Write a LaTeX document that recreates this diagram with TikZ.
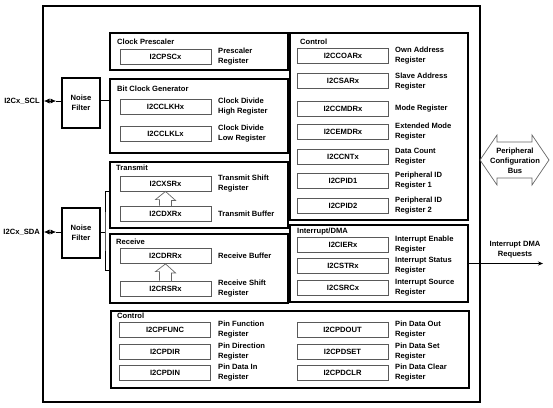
\documentclass[tikz,border=0pt]{standalone}
\usepackage{fontspec}
\setmainfont{Liberation Sans}
\usetikzlibrary{arrows.meta}

\begin{document}
\begin{tikzpicture}[x=1pt,y=-1pt,font=\bfseries\fontsize{7.6}{10}\selectfont]
\tikzstyle{lien}=[line width=0.6pt]
\tikzstyle{creux}=[draw=black!60,line width=0.7pt]
\tikzset{bloc/.style={draw,line width=1.6pt,minimum width=178pt,inner sep=0pt},
registre/.style={draw=black!65,line width=0.8pt,minimum width=91pt,minimum height=15pt,inner sep=0pt},
legende/.style={anchor=west,align=left,inner sep=0pt},
titre/.style={anchor=west,inner sep=0pt}}
\useasboundingbox (0,0) rectangle (553,407);

% module
\draw[line width=1.5pt] (43,6) rectangle (480,402);

% blocs
\node[bloc,minimum height=37pt] (presc) at (199,51.5) {};
\node[bloc,minimum height=74pt] (clkgen) at (199,116) {};
\node[bloc,minimum height=66pt] (tx) at (199,195) {};
\node[bloc,minimum height=69pt] (rx) at (199,268.5) {};
\node[bloc,minimum height=187pt] (ctrl) at (379,126.5) {};
\node[bloc,minimum height=77pt] (irq) at (379,263.5) {};
\node[bloc,minimum width=358pt,minimum height=77pt] (pin) at (290,349.5) {};
\node[bloc,minimum width=38pt,minimum height=50pt,align=center] (sclnf) at (81,103) {Noise\\Filter};
\node[bloc,minimum width=38pt,minimum height=50pt,align=center] (sdanf) at (81,233) {Noise\\Filter};

% titres
\node[titre] at (117,42) {Clock Prescaler};
\node[titre] at (117,89) {Bit Clock Generator};
\node[titre] at (116,168) {Transmit};
\node[titre] at (116,242) {Receive};
\node[titre] at (300,42) {Control};
\node[titre] at (297,232) {Interrupt/DMA};
\node[titre] at (117,316) {Control};

% registres
\node[registre] (psc) at (165.5,56.5) {I2CPSCx};
\node[registre] (clkh) at (165.5,106.5) {I2CCLKHx};
\node[registre] (clkl) at (165.5,133.5) {I2CCLKLx};
\node[registre] (xsr) at (165.5,183.5) {I2CXSRx};
\node[registre] (dxr) at (165.5,213.5) {I2CDXRx};
\node[registre] (drr) at (165.5,256) {I2CDRRx};
\node[registre] (rsr) at (165.5,288.5) {I2CRSRx};

\node[registre] (coar) at (343,55.5) {I2CCOARx};
\node[registre] (sar) at (343,81) {I2CSARx};
\node[registre] (cmdr) at (343,108.5) {I2CCMDRx};
\node[registre] (emdr) at (343,132) {I2CEMDRx};
\node[registre] (cnt) at (343,156.5) {I2CCNTx};
\node[registre] (pid1) at (343,180.5) {I2CPID1};
\node[registre] (pid2) at (343,205.5) {I2CPID2};
\node[registre] (ier) at (343,244.5) {I2CIERx};
\node[registre] (str) at (343,266) {I2CSTRx};
\node[registre] (src) at (343,288) {I2CSRCx};

\node[registre] (func) at (165,329.5) {I2CPFUNC};
\node[registre] (dir) at (165,352) {I2CPDIR};
\node[registre] (din) at (165,373) {I2CPDIN};
\node[registre] (dout) at (342.5,329.5) {I2CPDOUT};
\node[registre] (dset) at (342.5,352) {I2CPDSET};
\node[registre] (dclr) at (342.5,373) {I2CPDCLR};

% legendes
\node[legende] at (218,56.5) {Prescaler\\Register};
\node[legende] at (218,106.5) {Clock Divide\\High Register};
\node[legende] at (218,133.5) {Clock Divide\\Low Register};
\node[legende] at (218,183.5) {Transmit Shift\\Register};
\node[legende] at (218,213.5) {Transmit Buffer};
\node[legende] at (218,256) {Receive Buffer};
\node[legende] at (218,288.5) {Receive Shift\\Register};

\node[legende] at (395,56) {Own Address\\Register};
\node[legende] at (395,81.5) {Slave Address\\Register};
\node[legende] at (395,108.5) {Mode Register};
\node[legende] at (395,132) {Extended Mode\\Register};
\node[legende] at (395,156.5) {Data Count\\Register};
\node[legende] at (395,181) {Peripheral ID\\Register 1};
\node[legende] at (395,206) {Peripheral ID\\Register 2};
\node[legende] at (395,244.5) {Interrupt Enable\\Register};
\node[legende] at (395,266) {Interrupt Status\\Register};
\node[legende] at (395,288) {Interrupt Source\\Register};

\node[legende] at (218,329.5) {Pin Function\\Register};
\node[legende] at (218,352) {Pin Direction\\Register};
\node[legende] at (218,373) {Pin Data In\\Register};
\node[legende] at (395,329.5) {Pin Data Out\\Register};
\node[legende] at (395,352) {Pin Data Set\\Register};
\node[legende] at (395,373) {Pin Data Clear\\Register};

% broches
\node[anchor=east,inner sep=0pt] (scl) at (40,101) {I2Cx\_SCL};
\node[anchor=east,inner sep=0pt] (sda) at (40,232) {I2Cx\_SDA};
\coordinate (sclpad) at (44,101);
\coordinate (sclin) at (56,101);
\coordinate (sdapad) at (44,232);
\coordinate (sdain) at (56,232);
\draw[lien,{Latex[length=5.5pt,width=5pt]}-{Latex[length=5.5pt,width=5pt]}] (sclpad) -- (sclin);
\draw[lien] (sclin) -- (sclin -| sclnf.west);
\draw[lien,{Latex[length=5.5pt,width=5pt]}-{Latex[length=5.5pt,width=5pt]}] (sdapad) -- (sdain);
\draw[lien] (sdain) -- (sdain -| sdanf.west);

% liaisons internes
\draw[lien] ([yshift=3pt]sclnf.east) -- ([yshift=3pt]sclnf.east -| clkgen.west);
\coordinate (fourche) at (105,232);
\draw[lien] (sdanf.east |- fourche) -- (fourche);
\draw[lien] ([yshift=4pt]tx.west) -| (fourche) |- ([yshift=-1.5pt]rx.west);

% fleches creuses
\draw[creux] (dxr.north) ++(-6,0) -- ++(0,-6) -- ++(-4,0) -- (xsr.south) -- ++(10,9) -- ++(-4,0) -- ++(0,6);
\draw[creux] (rsr.north) ++(-6,0) -- ++(0,-9) -- ++(-4,0) -- (drr.south) -- ++(10,9) -- ++(-4,0) -- ++(0,9);

% bus de configuration
\draw[creux] (480,160) -- (497,135) -- (497,142) -- (532,142) -- (532,135) -- (549,160)
  -- (532,185) -- (532,178) -- (497,178) -- (497,185) -- cycle;
\node[align=center,inner sep=0pt] (bus) at (515,161) {Peripheral\\Configuration\\Bus};

% requetes
\coordinate (req) at (543,263.5);
\draw[lien,-{Stealth[length=5pt,width=4pt]}] (irq.east) -- (req);
\node[align=center,inner sep=0pt] (reqtxt) at (515,250) {Interrupt DMA\\Requests};

\end{tikzpicture}
\end{document}
